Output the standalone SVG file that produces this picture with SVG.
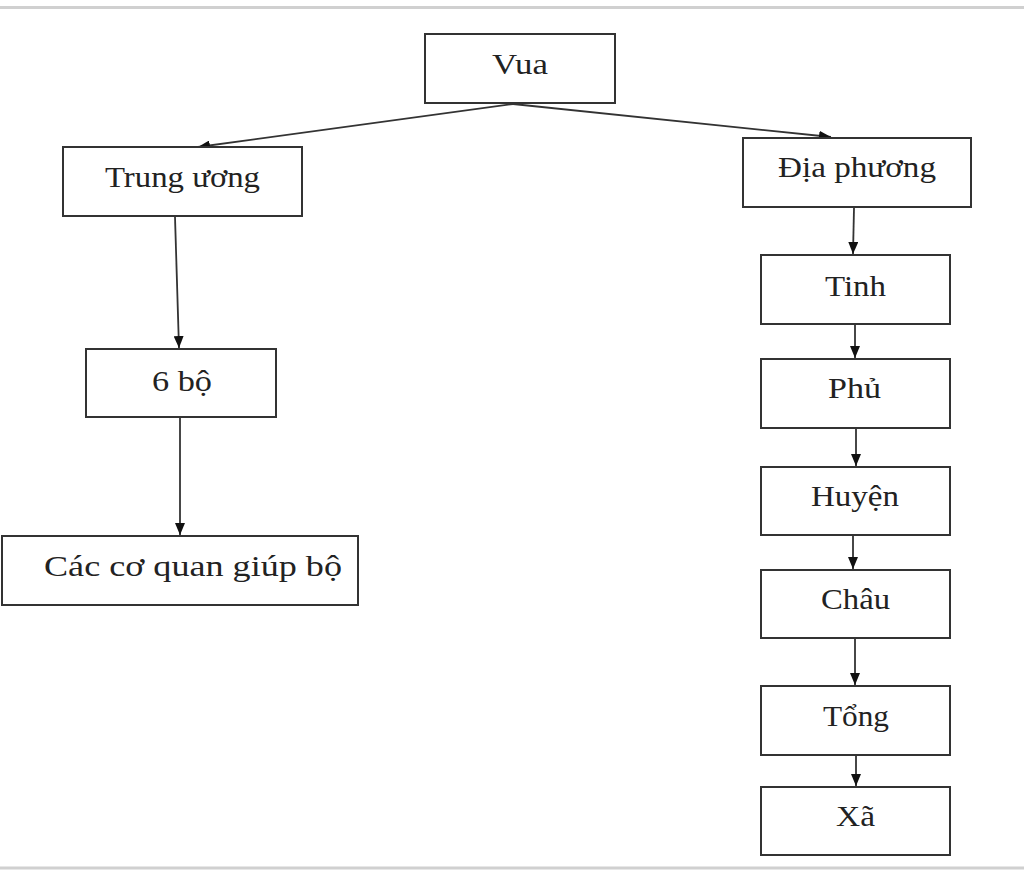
<svg xmlns="http://www.w3.org/2000/svg" width="1024" height="871" viewBox="0 0 1024 871">
<style>
.box{fill:#fff;stroke:#333;stroke-width:2}
.lbl{font-family:"Liberation Serif","Times New Roman",serif;font-size:30px;fill:#222;text-anchor:middle;dominant-baseline:central}
.con{stroke:#333;stroke-width:1.8;fill:none;marker-end:url(#ah)}
.frame{stroke:#d0d0d0;stroke-width:3}
</style>
<defs>
<marker id="ah" markerWidth="12" markerHeight="10" refX="12" refY="5" orient="auto" markerUnits="userSpaceOnUse">
<path d="M0,0 L12,5 L0,10 Z" fill="#111"/>
</marker>
</defs>
<rect x="0" y="0" width="1024" height="871" fill="#fff"/>
<line class="frame" x1="0" y1="7.5" x2="1024" y2="7.5"/>
<line class="frame" x1="0" y1="868" x2="1024" y2="868"/>
<g id="connectors">
<line class="con" x1="513" y1="104" x2="198" y2="147"/>
<line class="con" x1="513" y1="104" x2="831" y2="137"/>
<line class="con" x1="175" y1="217" x2="179" y2="348"/>
<line class="con" x1="180" y1="418" x2="180" y2="535"/>
<line class="con" x1="854" y1="208" x2="853" y2="254"/>
<line class="con" x1="855" y1="325" x2="855" y2="358"/>
<line class="con" x1="856" y1="429" x2="856" y2="466"/>
<line class="con" x1="853" y1="536" x2="853" y2="569"/>
<line class="con" x1="855" y1="639" x2="855" y2="685"/>
<line class="con" x1="856" y1="756" x2="856" y2="786"/>
</g>
<g id="vua"><rect class="box" x="425" y="34" width="190" height="69"/><text class="lbl" x="520" y="63" textLength="56" lengthAdjust="spacingAndGlyphs">Vua</text></g>
<g id="trung-uong"><rect class="box" x="63" y="147" width="239" height="69"/><text class="lbl" x="182.5" y="176" textLength="155" lengthAdjust="spacingAndGlyphs">Trung ương</text></g>
<g id="dia-phuong"><rect class="box" x="743" y="138" width="228" height="69"/><text class="lbl" x="857" y="166" textLength="158" lengthAdjust="spacingAndGlyphs">Địa phương</text></g>
<g id="sau-bo"><rect class="box" x="86" y="349" width="190" height="68"/><text class="lbl" x="182" y="380" textLength="60" lengthAdjust="spacingAndGlyphs">6 bộ</text></g>
<g id="co-quan"><rect class="box" x="2" y="536" width="356" height="69"/><text class="lbl" x="193" y="565" textLength="298" lengthAdjust="spacingAndGlyphs">Các cơ quan giúp bộ</text></g>
<g id="tinh"><rect class="box" x="761" y="255" width="189" height="69"/><text class="lbl" x="855.5" y="285" textLength="61" lengthAdjust="spacingAndGlyphs">Tinh</text></g>
<g id="phu"><rect class="box" x="761" y="359" width="189" height="69"/><text class="lbl" x="854.5" y="387" textLength="53" lengthAdjust="spacingAndGlyphs">Phủ</text></g>
<g id="huyen"><rect class="box" x="761" y="467" width="189" height="68"/><text class="lbl" x="855" y="495" textLength="88" lengthAdjust="spacingAndGlyphs">Huyện</text></g>
<g id="chau"><rect class="box" x="761" y="570" width="189" height="68"/><text class="lbl" x="855.5" y="598" textLength="69" lengthAdjust="spacingAndGlyphs">Châu</text></g>
<g id="tong"><rect class="box" x="761" y="686" width="189" height="69"/><text class="lbl" x="856" y="715" textLength="66" lengthAdjust="spacingAndGlyphs">Tổng</text></g>
<g id="xa"><rect class="box" x="761" y="787" width="189" height="68"/><text class="lbl" x="855.5" y="815" textLength="39" lengthAdjust="spacingAndGlyphs">Xã</text></g>
</svg>
